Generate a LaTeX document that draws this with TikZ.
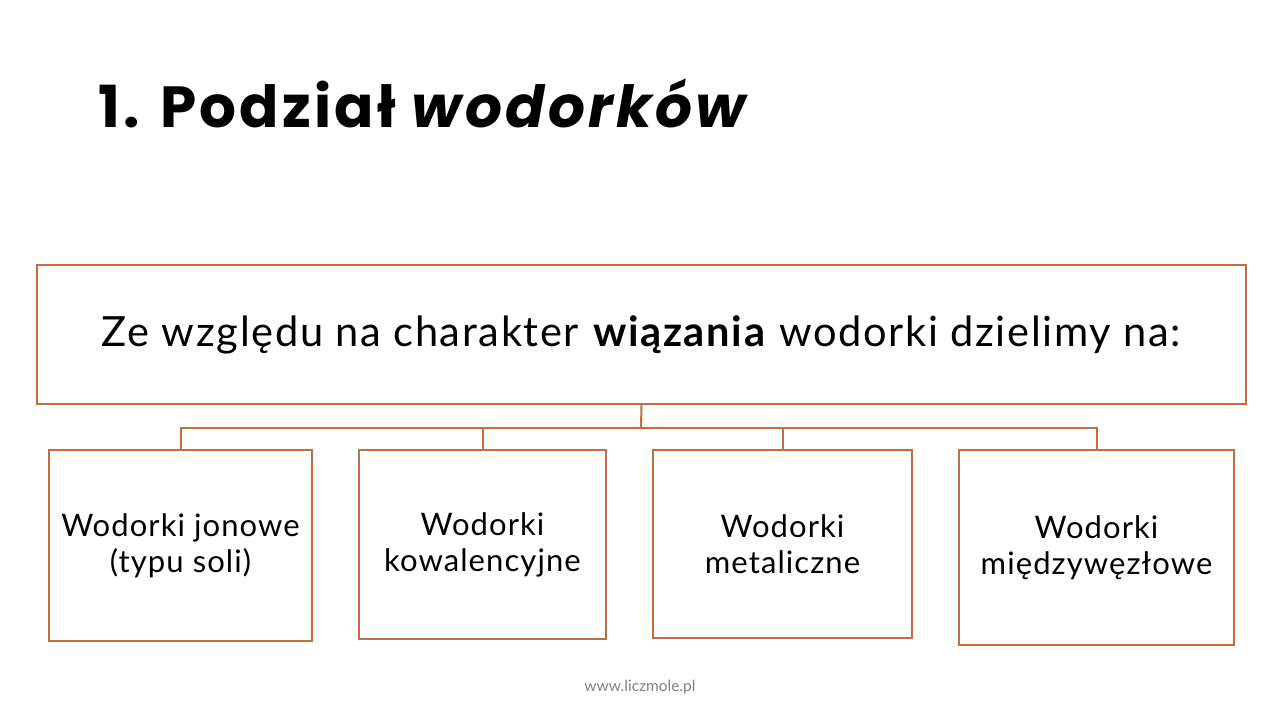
\documentclass[tikz,border=0pt]{standalone}
\usepackage{fontspec}
\setmainfont{Lato}
\newfontfamily\titlefont[LetterSpace=5.6]{Poppins}
\newfontfamily\boxfont[LetterSpace=3.5]{Lato}
\newfontfamily\topfont[LetterSpace=4]{Lato}
\definecolor{brd}{RGB}{193,110,62}
\definecolor{wm}{RGB}{130,130,130}
\begin{document}
\begin{tikzpicture}[x=1pt,y=-1pt,
  box/.style={draw=brd, line width=2pt, inner sep=0pt, align=center, font=\boxfont\fontsize{31}{36}\selectfont},
  conn/.style={draw=brd, line width=2pt}]
\useasboundingbox[fill=white] (0,0) rectangle (1280,720);
\node[anchor=base west, inner sep=0pt, font=\titlefont\bfseries\fontsize{58}{60}\selectfont] (title) at (98,127) {1. Podział \itshape wodorków};
\node[box, minimum width=1209pt, minimum height=139pt, font=\topfont\fontsize{41.6}{46}\selectfont] (top) at (641.5,334.5) {Ze względu na charakter \textbf{wiązania} wodorki dzielimy na:};
\node[box, minimum width=263pt, minimum height=191pt] (b1) at (180.5,545.5) {Wodorki jonowe\\(typu soli)};
\node[box, minimum width=247pt, minimum height=189pt] (b2) at (482.5,544.5) {Wodorki\\kowalencyjne};
\node[box, minimum width=259pt, minimum height=188pt] (b3) at (782.5,544) {Wodorki\\metaliczne};
\node[box, minimum width=275pt, minimum height=195pt] (b4) at (1096.5,547.5) {Wodorki\\międzywęzłowe};
\coordinate (j) at (641,428);
\draw[conn] (top.south) -- (j);
\draw[conn] (b1.north) |- (j);
\draw[conn] (b2.north) |- (j);
\draw[conn] (b3.north) |- (j);
\draw[conn] (b4.north) |- (j);
\node[text=wm, font=\fontsize{15.5}{18}\selectfont, inner sep=0pt] (wmark) at (640,687) {www.liczmole.pl};
\end{tikzpicture}
\end{document}
